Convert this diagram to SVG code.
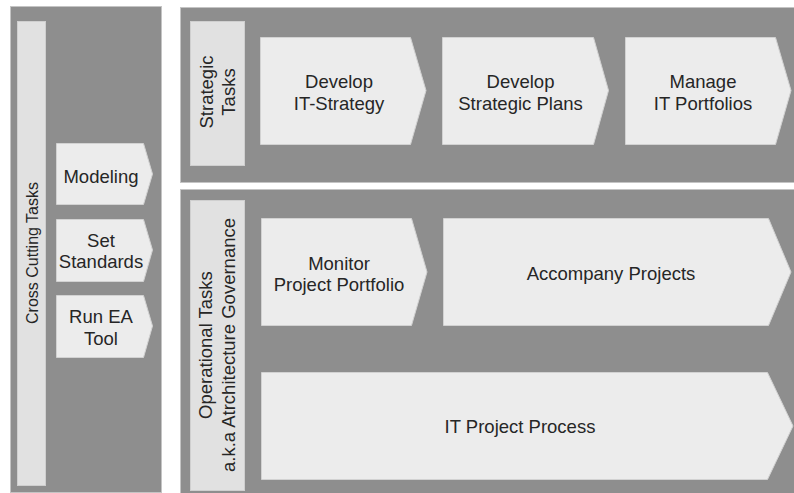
<svg xmlns="http://www.w3.org/2000/svg" width="794" height="493" viewBox="0 0 794 493">
<style>
.panel{fill:#8e8e8e;stroke:#c4c4c4;stroke-width:1}
.strip{fill:#e1e1e1;stroke:#cfcfcf;stroke-width:1}
.chev{fill:#ececec;stroke:#d2d2d2;stroke-width:1}
text{font-family:"Liberation Sans",Arial,sans-serif;font-size:18.5px;fill:#262626;text-anchor:middle}
.small{font-size:16px}
</style>
<rect width="794" height="493" fill="#ffffff"/>
<g id="cross-cutting">
<rect class="panel" x="10.5" y="6.5" width="151" height="486"/>
<rect class="strip" x="17.5" y="21.5" width="28" height="464"/>
<text class="small" transform="translate(37.5,253) rotate(-90)">Cross Cutting Tasks</text>
</g>
<g id="modeling">
<path class="chev" d="M56.5 143.5H143.5L152.5 174L143.5 204.5H56.5Z"/>
<text x="101" y="183">Modeling</text>
</g>
<g id="set-standards">
<path class="chev" d="M56.5 219.5H143.5L152.5 250L143.5 281.5H56.5Z"/>
<text x="101" y="247">Set</text>
<text x="101" y="268">Standards</text>
</g>
<g id="run-ea-tool">
<path class="chev" d="M56.5 295.5H143.5L152.5 326L143.5 357.5H56.5Z"/>
<text x="101" y="323">Run EA</text>
<text x="101" y="345">Tool</text>
</g>
<g id="strategic">
<rect class="panel" x="180.5" y="7.5" width="620" height="175"/>
<rect class="strip" x="190.5" y="21.5" width="54" height="144"/>
<text transform="translate(213,92) rotate(-90)">Strategic</text>
<text transform="translate(235,92) rotate(-90)">Tasks</text>
</g>
<g id="develop-it-strategy">
<path class="chev" d="M260.5 37.5H410.5L426 90.5L410.5 144.5H260.5Z"/>
<text x="339" y="88">Develop</text>
<text x="339" y="110">IT-Strategy</text>
</g>
<g id="develop-strategic-plans">
<path class="chev" d="M442.5 37.5H593.5L608.5 90.5L593.5 144.5H442.5Z"/>
<text x="520.5" y="88">Develop</text>
<text x="520.5" y="110">Strategic Plans</text>
</g>
<g id="manage-it-portfolios">
<path class="chev" d="M625.5 37.5H775.5L791 90.5L775.5 144.5H625.5Z"/>
<text x="703" y="88">Manage</text>
<text x="703" y="110">IT Portfolios</text>
</g>
<g id="operational">
<rect class="panel" x="180.5" y="189.5" width="620" height="310"/>
<rect class="strip" x="190.5" y="200.5" width="54" height="290"/>
<text transform="translate(212,345) rotate(-90)">Operational Tasks</text>
<text transform="translate(235,345) rotate(-90)">a.k.a Atrchitecture Governance</text>
</g>
<g id="monitor-project-portfolio">
<path class="chev" d="M261.5 218.5H411.5L427 272L411.5 325.5H261.5Z"/>
<text x="339" y="270">Monitor</text>
<text x="339" y="291">Project Portfolio</text>
</g>
<g id="accompany-projects">
<path class="chev" d="M443.5 218.5H768.5L791 272L768.5 325.5H443.5Z"/>
<text x="611" y="280">Accompany Projects</text>
</g>
<g id="it-project-process">
<path class="chev" d="M261.5 372.5H767.5L793 426L767.5 479.5H261.5Z"/>
<text x="520" y="433">IT Project Process</text>
</g>
<g id="connectors"></g>
</svg>
